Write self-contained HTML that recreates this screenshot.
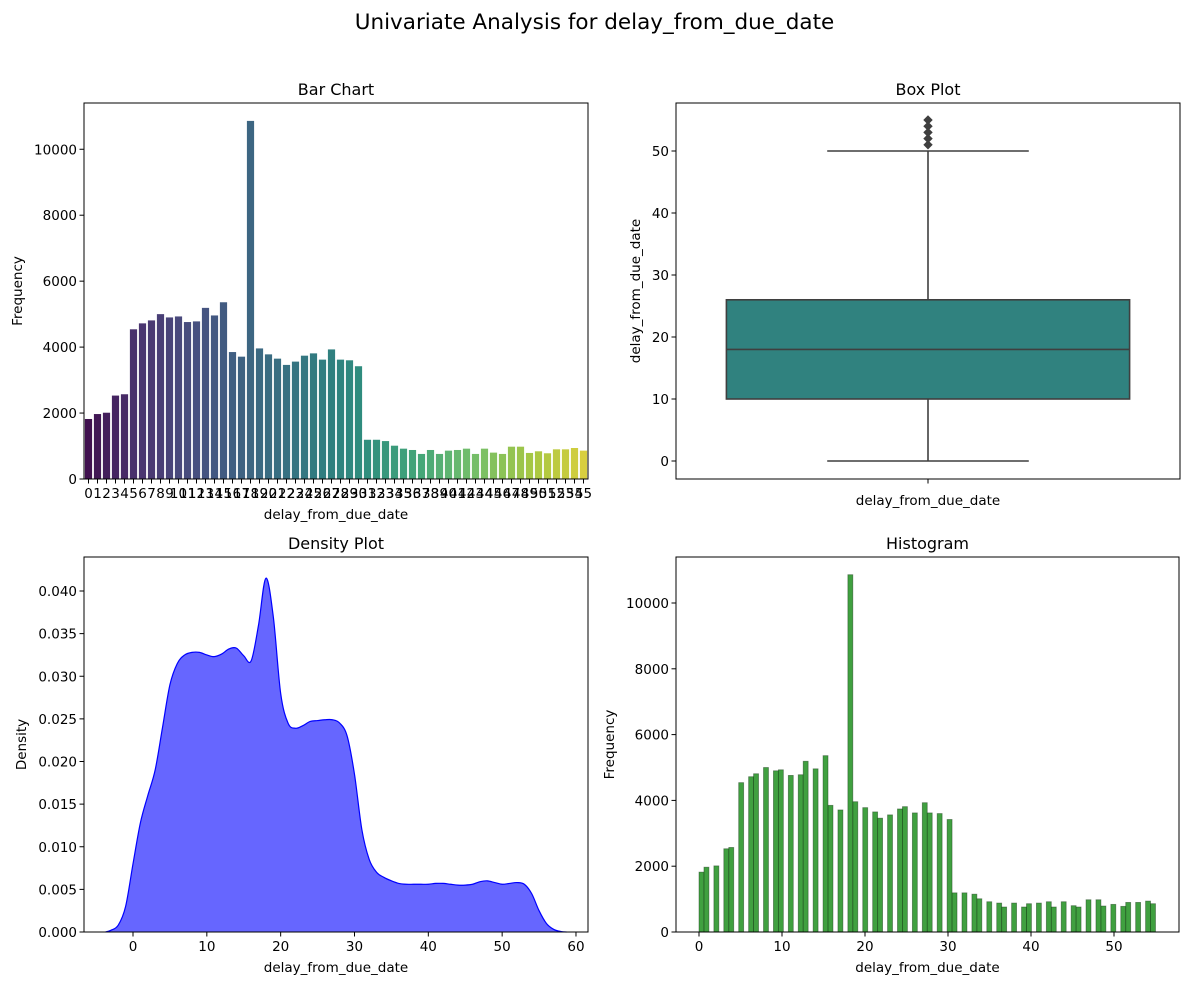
<!DOCTYPE html>
<html><head><meta charset="utf-8">
<style>
body{margin:0;background:#fff;}
svg{display:block;font-family:"DejaVu Sans","Liberation Sans",sans-serif;}
</style></head>
<body>
<svg id="fig" width="1189" height="985" viewBox="0 0 1189 985" xmlns="http://www.w3.org/2000/svg">
<text x="594.5" y="29" font-size="21.5" text-anchor="middle" fill="#000">Univariate Analysis for delay_from_due_date</text>
</svg>
<script>
const categories = [];
for (let i = 0; i <= 55; i++) categories.push(i);
const frequencies = [1820,1970,2010,2530,2570,4540,4720,4810,5000,4900,4930,4760,4780,5190,4960,5360,3850,3710,10860,3960,3780,3650,3460,3560,3740,3810,3620,3930,3620,3600,3420,1190,1190,1150,1010,920,880,760,880,760,860,880,920,760,920,800,760,980,980,790,840,780,900,900,940,860];
const barYTicks = [0,2000,4000,6000,8000,10000];
const boxStats = {min:0, q1:10, median:18, q3:26, max:50};
const boxOutliers = [51,52,53,54,55];
const boxYTicks = [0,10,20,30,40,50];
const densityX = [-3.7,-3,-2,-1,0,1,2,3,4,5,6,7,8,9,10,11,12,13,14,15,16,17,18,19,20,21,22,23,24,25,26,27,28,29,30,31,32,33,34,35,36,37,38,39,40,41,42,43,44,45,46,47,48,49,50,51,52,53,54,55,56,57,58,58.7];
const densityY = [0,0.0002,0.0008,0.003,0.008,0.0128,0.016,0.019,0.024,0.029,0.0315,0.0325,0.0328,0.0328,0.0325,0.0323,0.0326,0.0332,0.0333,0.0324,0.0318,0.036,0.0415,0.037,0.028,0.0245,0.0239,0.0242,0.0247,0.0248,0.0249,0.0249,0.0245,0.023,0.0185,0.012,0.0085,0.007,0.0064,0.006,0.0057,0.0056,0.0056,0.0056,0.0056,0.0057,0.0057,0.0056,0.0055,0.0055,0.0056,0.0059,0.006,0.0058,0.0056,0.0057,0.0058,0.0056,0.0045,0.0025,0.001,0.0003,0.00005,0];
const densityYTicks = [0,0.005,0.010,0.015,0.020,0.025,0.030,0.035,0.040];
const densityXTicks = [0,10,20,30,40,50,60];
const histXTicks = [0,10,20,30,40,50];
const histYTicks = [0,2000,4000,6000,8000,10000];

const NS = "http://www.w3.org/2000/svg";
const fig = document.getElementById('fig');
function el(tag, attrs, parent){ const e=document.createElementNS(NS,tag); for(const k in attrs) e.setAttribute(k,attrs[k]); (parent||fig).appendChild(e); return e; }
function txt(s, attrs, parent){ const e=el('text',attrs,parent); e.textContent=s; return e; }

const vir=["#440154","#482878","#3e4989","#31688e","#26828e","#1f9e89","#35b779","#6ece58","#b5de2b","#fde725"];
function hex2rgb(h){return [parseInt(h.slice(1,3),16),parseInt(h.slice(3,5),16),parseInt(h.slice(5,7),16)];}
function viridis(t){ const p=t*(vir.length-1); const i=Math.min(Math.floor(p),vir.length-2); const f=p-i; const a=hex2rgb(vir[i]), b=hex2rgb(vir[i+1]); return a.map((v,k)=>v+(b[k]-v)*f); }
function desat(rgb,s){ let [r,g,b]=rgb.map(v=>v/255); const mx=Math.max(r,g,b), mn=Math.min(r,g,b); const l=(mx+mn)/2; if(mx===mn) return rgb; const d=mx-mn; let sat=l>0.5?d/(2-mx-mn):d/(mx+mn); let h; if(mx===r) h=((g-b)/d+(g<b?6:0)); else if(mx===g) h=(b-r)/d+2; else h=(r-g)/d+4; h/=6; sat*=s; const q=l<0.5?l*(1+sat):l+sat-l*sat, p=2*l-q; function h2(t){if(t<0)t+=1;if(t>1)t-=1;if(t<1/6)return p+(q-p)*6*t;if(t<1/2)return q;if(t<2/3)return p+(q-p)*(2/3-t)*6;return p;} return [h2(h+1/3),h2(h),h2(h-1/3)].map(v=>Math.round(v*255)); }
function rgbs(c){return `rgb(${c[0]},${c[1]},${c[2]})`;}

function frame(g,L,T,R,B){ el('rect',{x:L,y:T,width:R-L,height:B-T,fill:'none',stroke:'#000','stroke-width':1},g); }
function yTicks(g,L,ticks,sy,fmt){ ticks.forEach(t=>{ const y=sy(t); el('line',{x1:L-4.5,x2:L,y1:y,y2:y,stroke:'#000','stroke-width':1},g); txt(fmt(t),{x:L-7,y:y+5,'font-size':13.5,'text-anchor':'end'},g); }); }
function xTicks(g,B,ticks,sx,fmt){ ticks.forEach(t=>{ const x=sx(t); el('line',{x1:x,x2:x,y1:B,y2:B+4.5,stroke:'#000','stroke-width':1},g); txt(fmt(t),{x:x,y:B+19,'font-size':13.5,'text-anchor':'middle'},g); }); }

// ---- Bar chart ----
(function(){
  const L=84,R=588,T=103,B=479;
  const g=el('g',{});  
  const n=categories.length;
  const sx=i=>L+(i+0.5)*(R-L)/n;
  const bw=0.8*(R-L)/n;
  const sy=v=>B-(v/11403)*(B-T);
  categories.forEach((c,i)=>{
    const col=desat(viridis((i+1)/(n+1)),0.75);
    const r=el('rect',{x:sx(i)-bw/2,y:sy(frequencies[i]),width:bw,height:B-sy(frequencies[i]),fill:rgbs(col)},g);
    
    
  });
  frame(g,L,T,R,B);
  yTicks(g,L,barYTicks,sy,t=>String(t));
  categories.forEach((c,i)=>{ const x=sx(i); el('line',{x1:x,x2:x,y1:B,y2:B+4.5,stroke:'#000'},g); txt(String(c),{x:x,y:B+19,'font-size':13.5,'text-anchor':'middle'},g); });
  txt('Bar Chart',{x:(L+R)/2,y:T-8,'font-size':16,'text-anchor':'middle'},g);
  txt('delay_from_due_date',{x:(L+R)/2,y:B+40,'font-size':13.5,'text-anchor':'middle'},g);
  txt('Frequency',{x:0,y:0,'font-size':13.5,'text-anchor':'middle',transform:`translate(22,${(T+B)/2}) rotate(-90)`},g);
})();

// ---- Box plot ----
(function(){
  const L=676,R=1180,T=103,B=479;
  const g=el('g',{});  
  const sy=v=>461-(v-0)*6.2;
  const cx=(L+R)/2, hw=0.4*(R-L);
  const col=desat(viridis(0.5),0.75);
  const box=el('rect',{x:cx-hw,y:sy(boxStats.q3),width:2*hw,height:sy(boxStats.q1)-sy(boxStats.q3),fill:rgbs(col),stroke:'#3f3f3f','stroke-width':1.6},g);
   
  el('line',{x1:cx-hw,x2:cx+hw,y1:sy(boxStats.median),y2:sy(boxStats.median),stroke:'#3f3f3f','stroke-width':1.6},g);
  el('line',{x1:cx,x2:cx,y1:sy(boxStats.q3),y2:sy(boxStats.max),stroke:'#3f3f3f','stroke-width':1.6},g);
  el('line',{x1:cx,x2:cx,y1:sy(boxStats.q1),y2:sy(boxStats.min),stroke:'#3f3f3f','stroke-width':1.6},g);
  el('line',{x1:cx-hw/2,x2:cx+hw/2,y1:sy(boxStats.max),y2:sy(boxStats.max),stroke:'#3f3f3f','stroke-width':1.6},g);
  el('line',{x1:cx-hw/2,x2:cx+hw/2,y1:sy(boxStats.min),y2:sy(boxStats.min),stroke:'#3f3f3f','stroke-width':1.6},g);
  boxOutliers.forEach(o=>{ const p=el('path',{d:`M${cx-4},${sy(o)} L${cx},${sy(o)-4} L${cx+4},${sy(o)} L${cx},${sy(o)+4}Z`,fill:'#3f3f3f',stroke:'#3f3f3f'},g);   });
  frame(g,L,T,R,B);
  yTicks(g,L,boxYTicks,sy,t=>String(t));
  el('line',{x1:cx,x2:cx,y1:B,y2:B+4.5,stroke:'#000'},g);
  txt('delay_from_due_date',{x:cx,y:B+26,'font-size':13.5,'text-anchor':'middle'},g);
  txt('Box Plot',{x:cx,y:T-8,'font-size':16,'text-anchor':'middle'},g);
  txt('delay_from_due_date',{x:0,y:0,'font-size':13.5,'text-anchor':'middle',transform:`translate(640,${(T+B)/2}) rotate(-90)`},g);
})();

// ---- Density ----
(function(){
  const L=84,R=588,T=557,B=932;
  const g=el('g',{});  
  const sx=v=>133+v*7.383;
  const sy=v=>B-v*8525;
  const pts=densityX.map((x,i)=>[sx(x),sy(densityY[i])]);
  let d=`M${pts[0][0].toFixed(2)},${pts[0][1].toFixed(2)}`;
  for(let i=0;i<pts.length-1;i++){
    const p0=pts[Math.max(i-1,0)], p1=pts[i], p2=pts[i+1], p3=pts[Math.min(i+2,pts.length-1)];
    const c1=[p1[0]+(p2[0]-p0[0])/6, p1[1]+(p2[1]-p0[1])/6];
    const c2=[p2[0]-(p3[0]-p1[0])/6, p2[1]-(p3[1]-p1[1])/6];
    d+=` C${c1[0].toFixed(2)},${Math.min(c1[1],B).toFixed(2)} ${c2[0].toFixed(2)},${Math.min(c2[1],B).toFixed(2)} ${p2[0].toFixed(2)},${p2[1].toFixed(2)}`;
  }
  const a=el('path',{d:d+' Z',fill:'#0000ff','fill-opacity':0.6,stroke:'none'},g);
   
  const ln=el('path',{d:d,fill:'none',stroke:'#0000ff','stroke-width':1.2,'stroke-linejoin':'round'},g);
   
  frame(g,L,T,R,B);
  yTicks(g,L,densityYTicks,sy,t=>t.toFixed(3));
  xTicks(g,B,densityXTicks,sx,t=>String(t));
  txt('Density Plot',{x:(L+R)/2,y:T-8,'font-size':16,'text-anchor':'middle'},g);
  txt('delay_from_due_date',{x:(L+R)/2,y:B+40,'font-size':13.5,'text-anchor':'middle'},g);
  txt('Density',{x:0,y:0,'font-size':13.5,'text-anchor':'middle',transform:`translate(26,${(T+B)/2}) rotate(-90)`},g);
})();

// ---- Histogram ----
(function(){
  const L=676,R=1179,T=557,B=932;
  const g=el('g',{});  
  const sx=v=>699+v*8.3;
  const sy=v=>B-(v/10000)*(B-603);
  const nb=92, w=55/nb;
  categories.forEach((c,i)=>{
    const bi=Math.min(Math.floor(c/w),nb-1);
    const x0=sx(bi*w), x1=sx((bi+1)*w);
    const r=el('rect',{x:x0,y:sy(frequencies[i]),width:x1-x0,height:B-sy(frequencies[i]),fill:'#008000','fill-opacity':0.75,stroke:'#1a3a1a','stroke-opacity':0.5,'stroke-width':0.8},g);
    
    
  });
  frame(g,L,T,R,B);
  yTicks(g,L,histYTicks,sy,t=>String(t));
  xTicks(g,B,histXTicks,sx,t=>String(t));
  txt('Histogram',{x:(L+R)/2,y:T-8,'font-size':16,'text-anchor':'middle'},g);
  txt('delay_from_due_date',{x:(L+R)/2,y:B+40,'font-size':13.5,'text-anchor':'middle'},g);
  txt('Frequency',{x:0,y:0,'font-size':13.5,'text-anchor':'middle',transform:`translate(614,${(T+B)/2}) rotate(-90)`},g);
})();
</script>
</body></html>
